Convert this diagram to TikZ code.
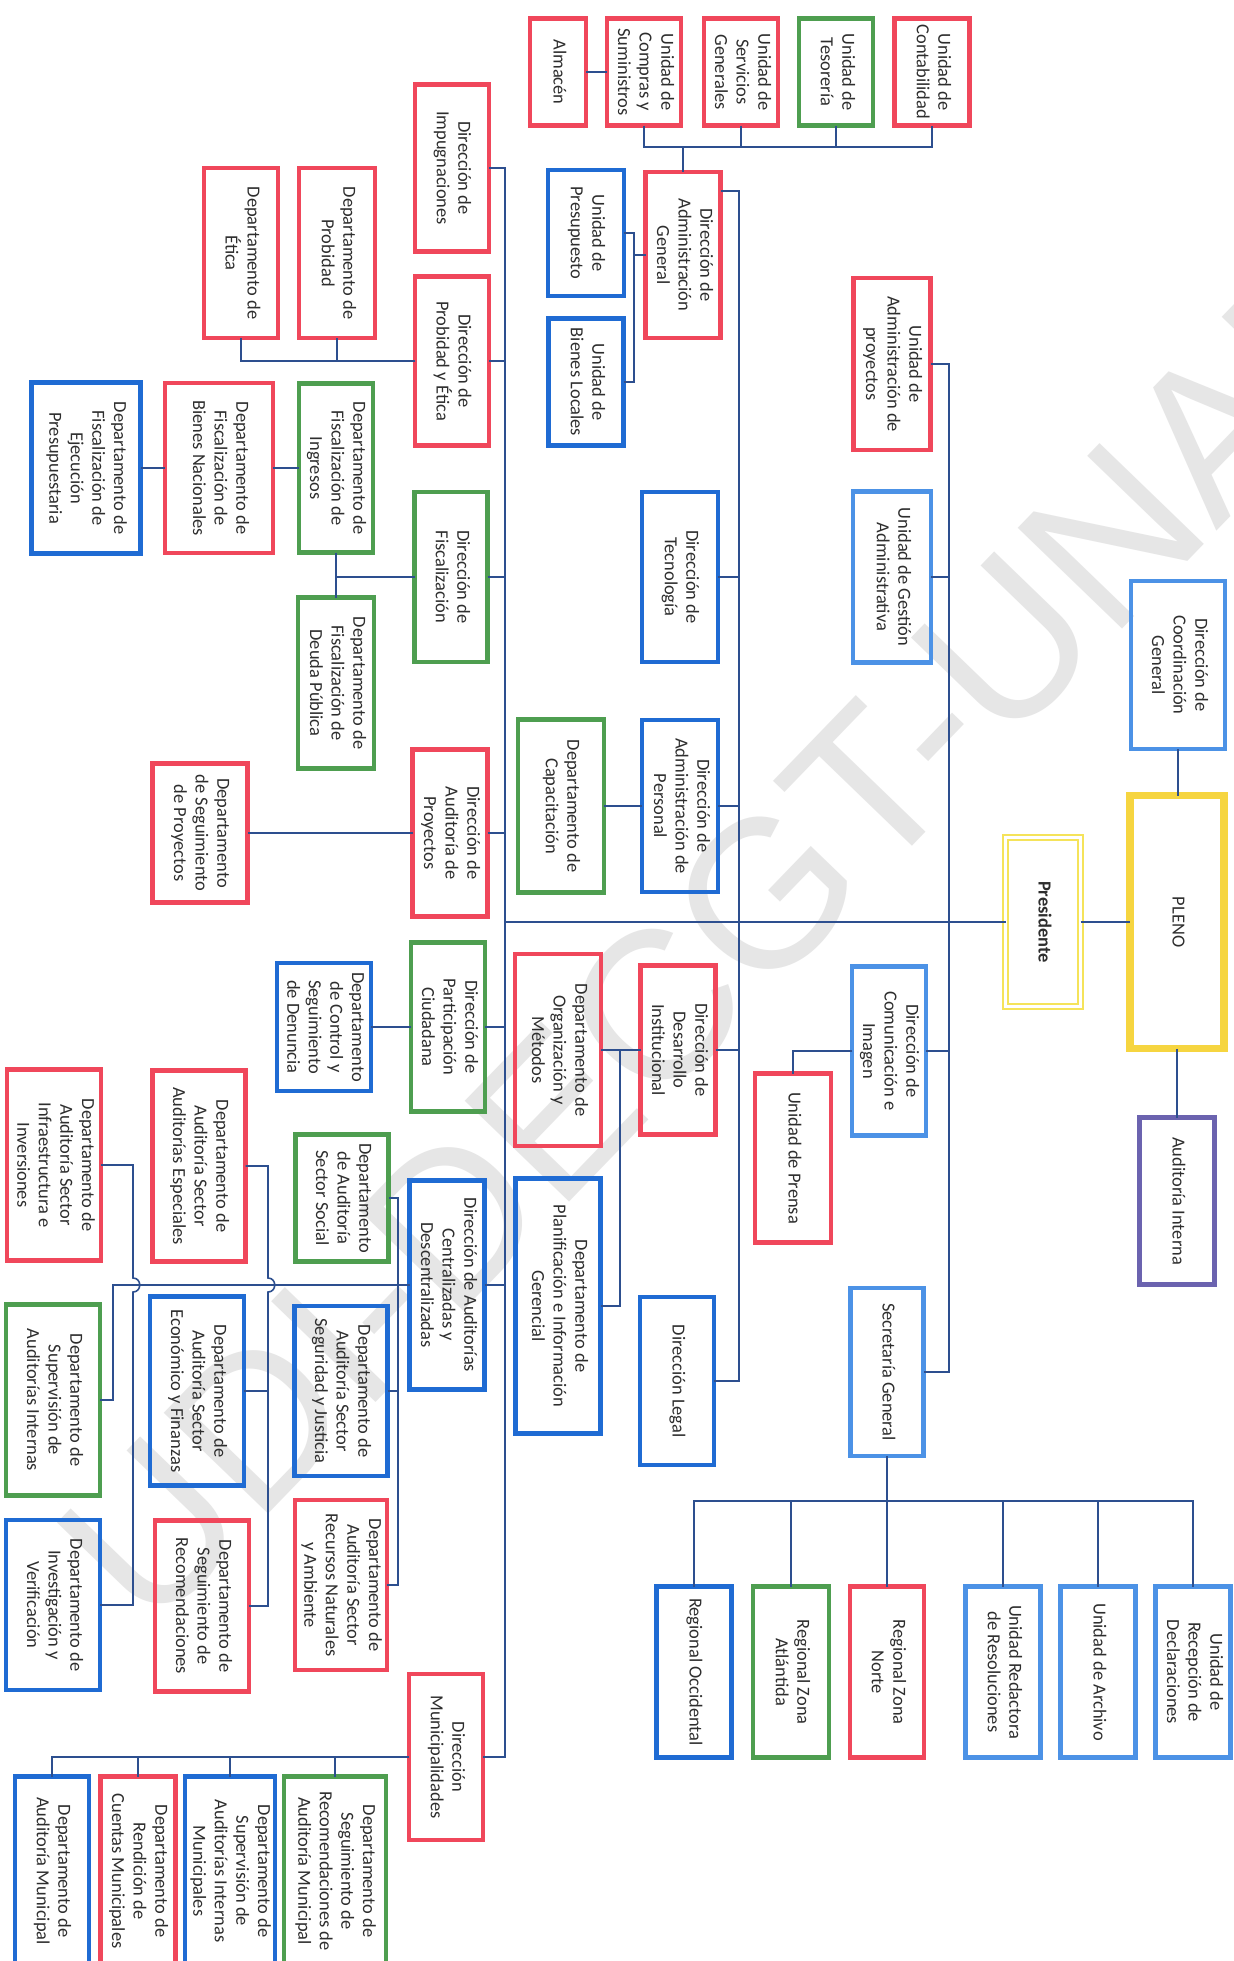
\documentclass[tikz,border=0pt]{standalone}
\usepackage{fontspec}
\usepackage{graphicx}
\setmainfont{Carlito}
\newfontfamily\markfont{Liberation Sans}
\usetikzlibrary{positioning}
\definecolor{cRed}{HTML}{F0475B}
\definecolor{cGrn}{HTML}{4E9E50}
\definecolor{cBlu}{HTML}{1F6BD3}
\definecolor{cSky}{HTML}{4C92E6}
\definecolor{cYel}{HTML}{F6D540}
\definecolor{cYelL}{HTML}{F5E35A}
\definecolor{cPur}{HTML}{6B63AF}
\definecolor{cLine}{HTML}{2D4F8F}
\definecolor{cInk}{HTML}{2E2E2E}
\definecolor{cMark}{HTML}{E6E6E6}
\newcommand{\vlab}[1]{\rotatebox{-90}{\begin{tabular}{@{}c@{}}#1\end{tabular}}}
\tikzset{
  box/.style   ={draw,line width=2.4pt,inner sep=1pt,outer sep=0pt,
                 font=\fontsize{10.5}{12.3}\selectfont,text=cInk},
  sz/.style 2 args={minimum width={(#1-4)*0.02cm},minimum height={(#2-4)*0.02cm}},
  redbox/.style={box,draw=cRed},
  grnbox/.style={box,draw=cGrn},
  blubox/.style={box,draw=cBlu},
  skybox/.style={box,draw=cSky},
  purbox/.style={box,draw=cPur},
  plenobox/.style={box,draw=cYel,line width=4.5pt},
  presbox/.style={box,draw=cYelL,line width=1.1pt,double=white,double distance=1.3pt},
  link/.style  ={draw=cLine,line width=0.9pt},
}

\begin{document}
\begin{tikzpicture}[x=0.02cm,y=-0.02cm]
\fill[white] (0,0) rectangle (1234,1961);
\useasboundingbox (0,0) rectangle (1234,1961);
\node[text=cMark,font=\markfont\fontsize{120}{120}\selectfont,rotate=46,inner sep=0pt] (wmk) at (733,928) {UDI-DECGT-UNAH};

% pleno y presidencia
\node[skybox,sz={98}{172}] (dcg) at (1178,665) {\vlab{Dirección de\\Coordinación\\General}};
\node[plenobox,sz={98}{257}] (pleno) at (1177,922) {\vlab{PLENO}};
\node[presbox,sz={79}{173}] (pres) at (1043,922) {\vlab{\textbf{Presidente}}};
\node[purbox,sz={79}{171}] (aint) at (1177,1201) {\vlab{Auditoría Interna}};

% rama derecha
\node[redbox,sz={81}{176}] (uap) at (892,364) {\vlab{Unidad de\\Administración de\\proyectos}};
\node[skybox,sz={82}{175}] (uga) at (892,577) {\vlab{Unidad de Gestión\\Administrativa}};
\node[skybox,sz={78}{173}] (dcom) at (889,1051) {\vlab{Dirección de\\Comunicación e\\Imagen}};
\node[redbox,sz={80}{173}] (upren) at (793,1158) {\vlab{Unidad de Prensa}};
\node[skybox,sz={77}{172}] (sgen) at (887,1372) {\vlab{Secretaría General}};

\node[blubox,sz={79}{175}] (rocc) at (694,1672) {\vlab{Regional Occidental}};
\node[grnbox,sz={80}{175}] (ratl) at (791,1672) {\vlab{Regional Zona\\Atlántida}};
\node[redbox,sz={78}{175}] (rnor) at (887,1672) {\vlab{Regional Zona\\Norte}};
\node[skybox,sz={79}{175}] (ured) at (1003,1672) {\vlab{Unidad Redactora\\de Resoluciones}};
\node[skybox,sz={79}{175}] (uarc) at (1098,1672) {\vlab{Unidad de Archivo}};
\node[skybox,sz={79}{175}] (urec) at (1193,1672) {\vlab{Unidad de\\Recepción de\\Declaraciones}};

% rama central
\node[redbox,sz={60}{111}] (alm) at (558,72) {\vlab{Almacén}};
\node[redbox,sz={78}{111}] (comp) at (644,72) {\vlab{Unidad de\\Compras y\\Suministros}};
\node[redbox,sz={78}{111}] (serv) at (741,72) {\vlab{Unidad de\\Servicios\\Generales}};
\node[grnbox,sz={78}{111}] (teso) at (836,72) {\vlab{Unidad de\\Tesorería}};
\node[redbox,sz={79}{111}] (conta) at (932,72) {\vlab{Unidad de\\Contabilidad}};

\node[redbox,sz={79}{170}] (dag) at (683,255) {\vlab{Dirección de\\Administración\\General}};
\node[blubox,sz={80}{130}] (upre) at (586,233) {\vlab{Unidad de\\Presupuesto}};
\node[blubox,sz={79}{131}] (ubie) at (586,382) {\vlab{Unidad de\\Bienes Locales}};
\node[blubox,sz={80}{174}] (dtec) at (680,577) {\vlab{Dirección de\\Tecnología}};
\node[blubox,sz={80}{176}] (dper) at (680,806) {\vlab{Dirección de\\Administración de\\Personal}};
\node[grnbox,sz={90}{177}] (dcap) at (561,806) {\vlab{Departamento de\\Capacitación}};
\node[redbox,sz={79}{173}] (ddes) at (678,1050) {\vlab{Dirección de\\Desarrollo\\Institucional}};
\node[redbox,sz={90}{196}] (dorg) at (558,1050) {\vlab{Departamento de\\Organización y\\Métodos}};
\node[blubox,sz={89}{259}] (dpla) at (558,1306) {\vlab{Departamento de\\Planificación e Información\\Gerencial}};
\node[blubox,sz={78}{172}] (dleg) at (677,1381) {\vlab{Dirección Legal}};

% rama izquierda
\node[redbox,sz={78}{171}] (dimp) at (452,168) {\vlab{Dirección de\\Impugnaciones}};
\node[redbox,sz={78}{173}] (dpye) at (452,361) {\vlab{Dirección de\\Probidad y Ética}};
\node[grnbox,sz={77}{174}] (dfis) at (451,577) {\vlab{Dirección de\\Fiscalización}};
\node[redbox,sz={79}{171}] (dapr) at (450,833) {\vlab{Dirección de\\Auditoría de\\Proyectos}};
\node[grnbox,sz={78}{173}] (dpci) at (448,1027) {\vlab{Dirección de\\Participación\\Ciudadana}};
\node[blubox,sz={79}{213}] (dacd) at (447,1285) {\vlab{Dirección de Auditorías\\Centralizadas y\\Descentralizadas}};
\node[redbox,sz={78}{170}] (dmun) at (446,1757) {\vlab{Dirección\\Municipalidades}};

\node[redbox,sz={78}{174}] (eti) at (241,253) {\vlab{Departamento de\\Ética}};
\node[redbox,sz={80}{174}] (prob) at (337,253) {\vlab{Departamento de\\Probidad}};
\node[grnbox,sz={78}{173}] (fing) at (336,468) {\vlab{Departamento de\\Fiscalización de\\Ingresos}};
\node[redbox,sz={112}{174}] (fbie) at (219,468) {\vlab{Departamento de\\Fiscalización de\\Bienes Nacionales}};
\node[blubox,sz={113}{175}] (feje) at (86,468) {\vlab{Departamento de\\Fiscalización de\\Ejecución\\Presupuestaria}};
\node[grnbox,sz={80}{175}] (fdeu) at (336,683) {\vlab{Departamento de\\Fiscalización de\\Deuda Pública}};
\node[redbox,sz={99}{143}] (sproy) at (200,833) {\vlab{Departamento\\de Seguimiento\\de Proyectos}};
\node[blubox,sz={98}{132}] (cden) at (324,1027) {\vlab{Departamento\\de Control y\\Seguimiento\\de Denuncia}};

\node[redbox,sz={98}{195}] (infra) at (54,1165) {\vlab{Departamento de\\Auditoría Sector\\Infraestructura e\\Inversiones}};
\node[redbox,sz={97}{195}] (espe) at (199,1166) {\vlab{Departamento de\\Auditoría Sector\\Auditorías Especiales}};
\node[grnbox,sz={97}{131}] (soc) at (342,1198) {\vlab{Departamento\\de Auditoría\\Sector Social}};
\node[grnbox,sz={98}{195}] (supi) at (53,1400) {\vlab{Departamento de\\Supervisión de\\Auditorías Internas}};
\node[blubox,sz={98}{193}] (econ) at (197,1391) {\vlab{Departamento de\\Auditoría Sector\\Económico y Finanzas}};
\node[blubox,sz={97}{174}] (segu) at (341,1391) {\vlab{Departamento de\\Auditoría Sector\\Seguridad y Justicia}};
\node[blubox,sz={98}{174}] (inve) at (53,1605) {\vlab{Departamento de\\Investigación y\\Verificación}};
\node[redbox,sz={98}{175}] (reco) at (202,1606) {\vlab{Departamento de\\Seguimiento de\\Recomendaciones}};
\node[redbox,sz={96}{174}] (recn) at (341,1585) {\vlab{Departamento de\\Auditoría Sector\\Recursos Naturales\\y Ambiente}};

\node[grnbox,sz={106}{193}] (mseg) at (335,1871) {\vlab{Departamento de\\Seguimiento de\\Recomendaciones de\\Auditoría Municipal}};
\node[blubox,sz={87}{193}] (msup) at (230,1871) {\vlab{Departamento de\\Supervisión de\\Auditorías Internas\\Municipales}};
\node[redbox,sz={79}{193}] (mren) at (138,1871) {\vlab{Departamento de\\Rendición de\\Cuentas Municipales}};
\node[blubox,sz={78}{193}] (maud) at (52,1871) {\vlab{Departamento de\\Auditoría Municipal}};

% conectores
\draw[link] (dcg.south) -- (dcg.south |- pleno.north);
\draw[link] (pleno.south) -- (pleno.south |- aint.north);
\draw[link] (pres.east) -- (pleno.west);

\coordinate (spR) at (949,364);
\draw[link] (uap.east) -- (spR) |- (sgen.east);
\foreach \n in {uga,dcom} \draw[link] (\n.east) -- (\n.east -| spR);
\draw[link] (dcom.west) -| (upren.north);

\coordinate (busS) at (887,1501);
\draw[link] (sgen.south) -- (busS);
\draw[link] (rocc.north) |- (busS) -| (urec.north);
\foreach \n in {ratl,rnor,ured,uarc} \draw[link] (\n.north) -- (\n.north |- busS);

\coordinate (busA) at (683,147);
\draw[link] (alm.east) -- (comp.west);
\draw[link] (comp.south) |- (busA) -| (conta.south);
\foreach \n in {serv,teso} \draw[link] (\n.south) -- (\n.south |- busA);
\draw[link] (busA) -- (dag.north);

\coordinate (brU) at (634,255);
\draw[link] (upre.east) -| (brU) |- (ubie.east);
\draw[link] (brU) -- (dag.west);

\coordinate (spM) at (739,191);
\draw[link] (dag.east |- spM) -- (spM) |- (dleg.east);
\foreach \n in {dtec,dper,ddes} \draw[link] (\n.east) -- (\n.east -| spM);
\draw[link] (dcap.east) -- (dper.west);
\draw[link] (ddes.west) -- (dorg.east);
\coordinate (brO) at (620,1050);
\draw[link] (brO) |- (dpla.east);

\coordinate (spL) at (505,168);
\draw[link] (dimp.east) -- (spL) |- (dmun.east);
\foreach \n in {dpye,dfis,dapr,dpci,dacd} \draw[link] (\n.east) -- (\n.east -| spL);
\draw[link] (pres.west) -- (pres.west -| spL);

\draw[link] (dpye.west) -| (eti.south);
\draw[link] (prob.south) -- (prob.south |- dpye.west);
\draw[link] (fing.west) -- (fbie.east);
\draw[link] (fbie.west) -- (feje.east);
\draw[link] (fing.south) -- (fing.south |- fdeu.north);
\draw[link] (dfis.west) -- (dfis.west -| fing.south);
\draw[link] (dapr.west) -- (dapr.west -| sproy.east);
\draw[link] (dpci.west) -- (dpci.west -| cden.east);

\coordinate (kS) at (113,1400);
\draw[link] (dacd.west) -| (kS) -- (supi.east);
\coordinate (vC) at (398,1285);
\draw[link] (soc.east) -| (vC) |- (recn.east);
\draw[link] (segu.east) -- (segu.east -| vC);
\coordinate (hB1) at (268,1278);
\coordinate (hB2) at (268,1292);
\draw[link] (espe.east) -| (hB1) .. controls +(9,0) and +(9,0) .. (hB2) |- (reco.east);
\draw[link] (econ.east) -- (econ.east -| hB1);
\coordinate (hA1) at (133,1278);
\coordinate (hA2) at (133,1292);
\draw[link] (infra.east) -| (hA1) .. controls +(9,0) and +(9,0) .. (hA2) |- (inve.east);

\draw[link] (dmun.west) -| (maud.north);
\foreach \n in {mren,msup,mseg} \draw[link] (\n.north) -- (\n.north |- dmun.west);
\end{tikzpicture}
\end{document}
